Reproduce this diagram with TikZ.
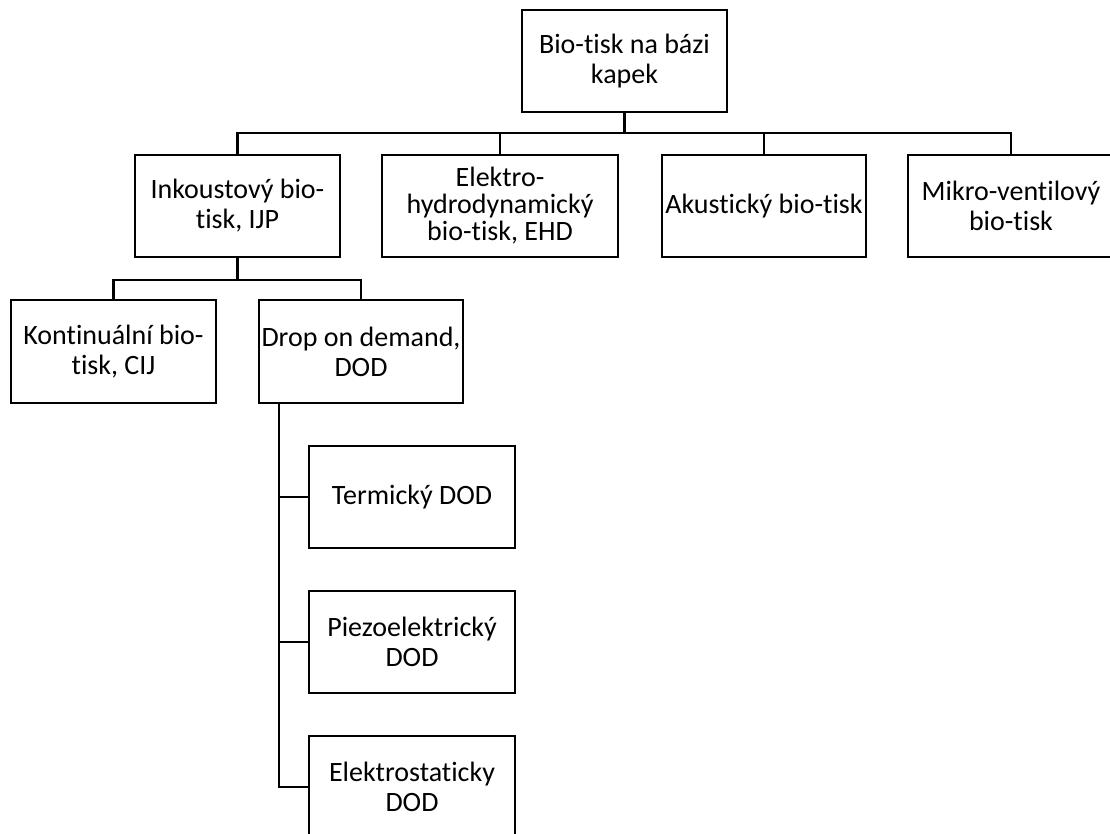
\documentclass[tikz,border=0pt]{standalone}
\usepackage{fontspec}
\setmainfont{Carlito}[Ligatures=NoCommon]
\begin{document}
\begin{tikzpicture}[x=1pt,y=-1pt,
  box/.style={draw=black,line width=2.7pt,rectangle,align=center,inner sep=0pt,
    minimum height=102pt,font=\fontsize{28}{30}\selectfont},
  conn/.style={draw=black,line width=2.9pt}]
\useasboundingbox (0,0) rectangle (1110,834);
\clip (0,0) rectangle (1110,834);
\node[box,minimum width=205pt] (root) at (624.5,61) {Bio-tisk na bázi\\kapek};
\node[box,minimum width=205pt] (ink) at (237.5,206) {Inkoustový bio-\\tisk, IJP};
\node[box,minimum width=236pt,font=\fontsize{28}{27}\selectfont] (ehd) at (500,206) {Elektro-\\hydrodynamický\\bio-tisk, EHD};
\node[box,minimum width=204pt] (aku) at (764,206) {Akustický bio-tisk};
\node[box,minimum width=206pt] (mik) at (1011,206) {Mikro-ventilový\\bio-tisk};
\node[box,minimum width=205pt,minimum height=103pt] (cij) at (113.5,351.5) {Kontinuální bio-\\tisk, CIJ};
\node[box,minimum width=204pt,minimum height=103pt] (dod) at (361,351.5) {Drop on demand,\\DOD};
\node[box,minimum width=206pt] (ter) at (412,497) {Termický DOD};
\node[box,minimum width=206pt] (pie) at (412,642) {Piezoelektrický\\DOD};
\node[box,minimum width=206pt] (ele) at (412,787) {Elektrostaticky\\DOD};
\coordinate (bus) at (0,133);
\coordinate (bus2) at (0,280);
\coordinate (dv) at (279,0);
% level 1
\draw[conn] (root.south) -- (root.south |- bus);
\draw[conn] (ink.north) -- (ink.north |- bus) -- (mik.north |- bus) -- (mik.north);
\draw[conn] (ehd.north) -- (ehd.north |- bus);
\draw[conn] (aku.north) -- (aku.north |- bus);
% level 2
\draw[conn] (ink.south) -- (ink.south |- bus2);
\draw[conn] (cij.north) -- (cij.north |- bus2) -- (dod.north |- bus2) -- (dod.north);
% DOD list
\draw[conn] (dod.south -| dv) -- (ele.west -| dv) -- (ele.west);
\draw[conn] (ter.west -| dv) -- (ter.west);
\draw[conn] (pie.west -| dv) -- (pie.west);
\end{tikzpicture}
\end{document}
